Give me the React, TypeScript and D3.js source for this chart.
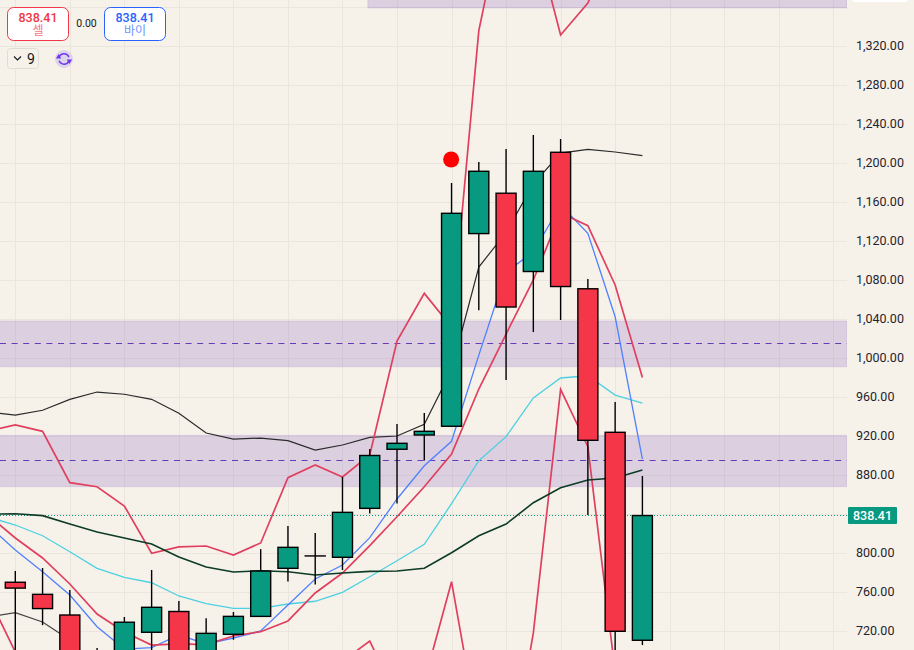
import { useEffect, useRef } from "react";
import * as d3 from "d3";

const width = 914;
const height = 650;
const plotRight = 847;

// candles, oldest first (values that fall below the visible window are estimates)
const opens = [770, 757.6, 736.4, 650, 680, 718.7, 740, 680, 716.6, 735, 784.3, 797, 795.6, 845.8, 906.4, 921, 930, 1127.6, 1169, 1088.7, 1211, 1071, 923.8, 710.5];
const closes = [764, 743, 680, 690, 729, 744.3, 680, 717.6, 735, 781.5, 805.8, 797, 841.7, 900, 912.5, 924.8, 1148.4, 1191.5, 1052.3, 1191.5, 1073.3, 915.6, 719.7, 838.41];
const highs = [781.5, 784.6, 762, 702.6, 734.4, 782.6, 750.8, 733, 739.5, 804, 827.7, 820.5, 878, 906.7, 932.3, 943.6, 1179.5, 1201, 1214.3, 1228.7, 1224.6, 1081, 954.9, 879];
const lows = [680, 726, 660, 640, 670, 690, 670, 670, 711, 735, 770.7, 767.6, 782.6, 840.4, 850.7, 894.8, 930, 1049, 977.4, 1026.6, 1039, 839, 680, 705.6];

// indicator lines start one bar before the first candle
const upperBand = [944.6, 941.5, 946.4, 957.6, 965.1, 962.8, 957.6, 943.3, 923.1, 916.9, 917.9, 915.2, 905.6, 910.8, 918.5, 920, 932, 987.7, 1093.3, 1128.7, 1178.4, 1210.2, 1214, 1211.3, 1207.5];
const lowerBand = [734.4, 738.8, 729.2, 710.8, 682];
const slowMa = [839.7, 840.3, 838.3, 829.7, 821.5, 815.4, 809.2, 795.9, 785.6, 780.5, 781.8, 780.8, 777.4, 779.5, 781.2, 781.5, 784.3, 800.3, 817.7, 829.7, 851.6, 867, 874.9, 876.9, 885.1];
const cyanMa = [836.9, 828.7, 817.7, 801.3, 784.3, 775.1, 769.5, 755.9, 748, 743.3, 743.3, 747.7, 750.5, 759.7, 775.7, 792.1, 808.9, 850.6, 894.7, 919.3, 959, 979.5, 981.8, 962, 953.8];
const blueMa = [828.7, 803, 780.8, 756.9, 724.4, 701.5, 702.9, 715.9, 706.7, 712.8, 720, 746.7, 773.3, 787.7, 815.7, 855.4, 889.5, 914.6, 1003, 1088.2, 1108.7, 1156.9, 1127.9, 1042.3, 896.4];
const redMa = [839, 815.4, 794.9, 768.2, 737.4, 719, 705.6, 706.7, 706, 714.9, 719.3, 730.3, 759, 779.5, 807.5, 837.2, 868, 901.5, 968.2, 1024.6, 1080, 1148.7, 1135.7, 1074.9, 980];
const redUpper = [925, 931.3, 924.8, 872.1, 868, 848.2, 799.7, 806.2, 807.2, 797.9, 810.3, 877.2, 890.2, 878, 900.5, 1017.4, 1066.3, 1031.8, 1335.7, 1469.8, 1439, 1331.3, 1364.1, 1428.7, 1450];
const redLower = [755.9, 698.5, 649, 629, 620, 610, 600, 610, 620, 630, 640, 650, 660, 689, 709.7, 651.3, 667.7, 770.6, 613.3, 556.9, 718, 967.9, 909, 678, 587.7];

// supply / demand zones: [from bar, low, high, mid line or null]
const zoneStarts = [-1, -1, 12.93];
const zoneLows = [991, 868, 1359];
const zoneHighs = [1038, 920.7, 1420];
const zoneMids = [1015, 895, null];

const priceTicks = d3.range(720, 1321, 40);
const lastPrice = 838.41;
const signalBar = 16;
const signalPrice = 1203.6;
const qty = "9";
const spread = "0.00";

export default function App() {
  const svgRef = useRef<SVGSVGElement | null>(null);

  useEffect(() => {
    if (!svgRef.current) return;

    const svg = d3.select(svgRef.current);
    svg.selectAll("*").remove();

    const x = d3.scaleLinear().domain([0, 23]).range([15.3, 642.4]);
    const y = d3.scaleLinear().domain([720, 1320]).range([631, 46]);
    const font = "Roboto, 'Noto Sans CJK KR', sans-serif";
    const fmt = d3.format(",.2f");

    svg.append("defs").append("clipPath").attr("id", "plot")
      .append("rect").attr("width", plotRight).attr("height", height);

    svg.append("rect").attr("width", width).attr("height", height).attr("fill", "#f6f2ea");

    // Grid
    const grid = svg.append("g").attr("stroke", "#eae6de").attr("stroke-width", 1);
    grid.selectAll("line.h").data(priceTicks.concat([1360])).join("line")
      .attr("class", "h")
      .attr("x1", 0).attr("x2", plotRight)
      .attr("y1", d => Math.round(y(d)) + 0.5).attr("y2", d => Math.round(y(d)) + 0.5);
    grid.selectAll("line.v").data(d3.range(0, 31, 2)).join("line")
      .attr("class", "v")
      .attr("x1", d => Math.round(x(d)) + 0.5).attr("x2", d => Math.round(x(d)) + 0.5)
      .attr("y1", 0).attr("y2", height);

    const plot = svg.append("g").attr("clip-path", "url(#plot)");

    // Zones
    zoneLows.forEach((low, i) => {
      const left = x(zoneStarts[i]);
      plot.append("rect")
        .attr("x", left).attr("width", plotRight - left)
        .attr("y", y(zoneHighs[i])).attr("height", y(low) - y(zoneHighs[i]))
        .attr("fill", "#673ab7").attr("fill-opacity", 0.18)
        .attr("stroke", "#673ab7").attr("stroke-opacity", 0.12);
      const mid = zoneMids[i];
      if (mid !== null) {
        const my = Math.floor(y(mid)) + 0.5;
        plot.append("line")
          .attr("x1", 0).attr("x2", plotRight)
          .attr("y1", my).attr("y2", my)
          .attr("stroke", "#673ab7").attr("stroke-width", 1)
          .attr("stroke-dasharray", "6 5.6");
      }
    });

    // Last price line
    const lastY = Math.floor(y(lastPrice)) + 0.5;
    plot.append("line")
      .attr("x1", 0).attr("x2", plotRight)
      .attr("y1", lastY).attr("y2", lastY)
      .attr("stroke", "#089981").attr("stroke-width", 1)
      .attr("stroke-dasharray", "1 2");

    // Indicator lines
    const line = d3.line<number>().x((_, i) => x(i - 1)).y(d => y(d));
    const series: [number[], string, number][] = [
      [upperBand, "#2a2a2a", 1.2],
      [lowerBand, "#444444", 1.2],
      [cyanMa, "#4dd0e1", 1.3],
      [blueMa, "#5080ff", 1.3],
      [redUpper, "#e0405f", 1.7],
      [redLower, "#e0405f", 1.7],
      [redMa, "#e0405f", 1.7],
      [slowMa, "#0c3b26", 1.6],
    ];
    series.forEach(([values, color, w]) => {
      plot.append("path")
        .attr("d", line(values))
        .attr("fill", "none")
        .attr("stroke", color)
        .attr("stroke-width", w);
    });

    // Candles
    const bars = plot.selectAll("g.bar").data(opens).join("g").attr("class", "bar");
    bars.append("line")
      .attr("x1", (_, i) => x(i)).attr("x2", (_, i) => x(i))
      .attr("y1", (_, i) => y(highs[i])).attr("y2", (_, i) => y(lows[i]))
      .attr("stroke", "#000").attr("stroke-width", 1.4);
    bars.append("rect")
      .attr("x", (_, i) => x(i) - 10)
      .attr("width", 20)
      .attr("y", (d, i) => y(Math.max(d, closes[i])))
      .attr("height", (d, i) => Math.max(Math.abs(y(d) - y(closes[i])), 0.01))
      .attr("fill", (d, i) => (closes[i] >= d ? "#089981" : "#f53648"))
      .attr("stroke", "#000").attr("stroke-width", 1.4);

    // Signal dot
    svg.append("circle")
      .attr("cx", x(signalBar) - 0.4).attr("cy", y(signalPrice)).attr("r", 8)
      .attr("fill", "#ff0000");

    // Price axis, the 840 label sits behind the last price tag
    const axis = svg.append("g").attr("transform", `translate(${plotRight},-0.5)`)
      .call(d3.axisRight(y).tickValues(priceTicks.filter(d => d !== 840)).tickFormat(d => fmt(d as number)).tickSize(0).tickPadding(9));
    axis.select(".domain").remove();
    axis.selectAll("text")
      .attr("font-family", font).attr("font-size", 12.5).attr("fill", "#1f2330");

    svg.append("rect")
      .attr("x", 852).attr("y", -8).attr("width", 56).attr("height", 10).attr("rx", 3)
      .attr("fill", "#ffffff");

    svg.append("rect")
      .attr("x", 848).attr("y", y(lastPrice) - 8.5).attr("width", 49).attr("height", 17).attr("rx", 1)
      .attr("fill", "#089981");
    svg.append("text")
      .attr("x", 872.5).attr("y", y(lastPrice) + 4.4)
      .attr("text-anchor", "middle")
      .attr("font-family", font).attr("font-size", 12.5).attr("font-weight", 500)
      .attr("fill", "#fff")
      .text(fmt(lastPrice));

    // Order panel
    const panel = svg.append("g").attr("font-family", font);
    const box = (left: number, color: string, light: string, label: string) => {
      panel.append("rect")
        .attr("x", left).attr("y", 7.5).attr("width", 61).attr("height", 33).attr("rx", 6)
        .attr("fill", "#fff").attr("stroke", color).attr("stroke-width", 1);
      panel.append("text")
        .attr("x", left + 30.5).attr("y", 21.5).attr("text-anchor", "middle")
        .attr("font-size", 12.5).attr("font-weight", 500).attr("fill", color).text(fmt(lastPrice));
      panel.append("text")
        .attr("x", left + 30.5).attr("y", 35).attr("text-anchor", "middle")
        .attr("font-size", 12).attr("fill", light).text(label);
    };
    box(7.5, "#f23645", "#f7787f", "셀");
    box(104.5, "#2962ff", "#6f95ff", "바이");
    panel.append("text")
      .attr("x", 86.5).attr("y", 27).attr("text-anchor", "middle")
      .attr("font-size", 10.5).attr("fill", "#131722").text(spread);

    panel.append("rect")
      .attr("x", 7.5).attr("y", 48.5).attr("width", 31).attr("height", 20).attr("rx", 3)
      .attr("fill", "#f6f2ea").attr("stroke", "#e0ddd6");
    panel.append("path")
      .attr("d", "M14 56.5l3.5 3.5 3.5-3.5")
      .attr("fill", "none").attr("stroke", "#131722").attr("stroke-width", 1.1);
    panel.append("text")
      .attr("x", 27).attr("y", 63.5)
      .attr("font-size", 14).attr("fill", "#131722").text(qty);

    // Sync icon
    const sync = panel.append("g").attr("transform", "translate(64,59)");
    sync.append("circle").attr("r", 9).attr("fill", "#dcd4e8");
    const arc = d3.arc<{ s: number; e: number }>()
      .innerRadius(4.4).outerRadius(5.9)
      .startAngle(d => d.s).endAngle(d => d.e);
    sync.selectAll("path.a").data([{ s: -1.2, e: 1.2 }, { s: 1.95, e: 4.35 }]).join("path")
      .attr("class", "a").attr("d", d => arc(d)).attr("fill", "#7434f0");
    sync.selectAll("path.h").data([[5.4, 2, 180], [-5.4, -2, 0]]).join("path")
      .attr("class", "h")
      .attr("d", d3.symbol(d3.symbolTriangle, 12)())
      .attr("transform", d => `translate(${d[0]},${d[1]}) rotate(${d[2]})`)
      .attr("fill", "#7434f0");
  }, []);

  return (
    <svg
      ref={svgRef}
      width={width}
      height={height}
      style={{ position: "fixed", left: 0, top: 0, display: "block" }}
    />
  );
}
